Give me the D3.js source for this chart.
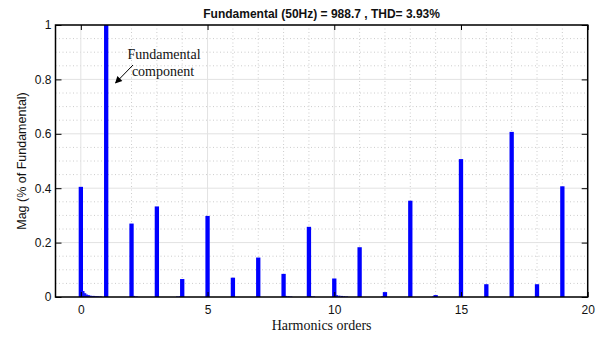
<!DOCTYPE html>
<html>
<head>
<meta charset="utf-8">
<script src="https://cdn.jsdelivr.net/npm/d3@7"></script>
<style>
  body { margin: 0; background: #fff; }
  svg text { fill: #111; }
</style>
</head>
<body>
<svg id="chart" width="608" height="337"></svg>
<script>
// harmonic orders and magnitudes (relative to fundamental)
var orders = [0, 1, 2, 3, 4, 5, 6, 7, 8, 9, 10, 11, 12, 13, 14, 15, 16, 17, 18, 19];
var mags = [0.405, 1.0, 0.27, 0.333, 0.066, 0.298, 0.071, 0.145, 0.085, 0.258, 0.068, 0.183, 0.018, 0.354, 0.007, 0.507, 0.047, 0.607, 0.047, 0.407];

// small leakage bins between the harmonics
var leakOrders = [0.1, 0.17, 0.24, 0.31, 0.38, 0.45, 0.52, 0.59, 0.66, 0.73, 0.8, 2.1, 2.2, 3.8, 3.9, 8.1, 8.2, 8.3, 9.1, 9.2, 10.1, 10.2, 10.3, 10.4, 10.5, 11.9, 13.9];
var leakVals = [0.022, 0.014, 0.009, 0.007, 0.005, 0.004, 0.004, 0.003, 0.003, 0.002, 0.002, 0.004, 0.002, 0.002, 0.003, 0.004, 0.003, 0.002, 0.003, 0.002, 0.007, 0.005, 0.004, 0.003, 0.002, 0.003, 0.002];

var xTicks = [0, 5, 10, 15, 20];
var yTicks = [0, 0.2, 0.4, 0.6, 0.8, 1];

var titleText = "Fundamental (50Hz) = 988.7 , THD= 3.93%";

var svg = d3.select("#chart");
var margin = {top: 25, left: 55.5},
    width = 532.2,
    height = 272;

var g = svg.append("g")
    .attr("transform", `translate(${margin.left},${margin.top})`);

var x = d3.scaleLinear().domain([-1, 20]).range([0, width]);
var y = d3.scaleLinear().domain([0, 1]).range([height, 0]);

// minor grid (dotted)
var minorX = d3.range(-1, 21).filter(d => xTicks.indexOf(d) < 0);
var minorY = d3.range(0, 1.0001, 0.05).map(d => +d.toFixed(2)).filter(d => Math.abs(d * 5 - Math.round(d * 5)) > 1e-6);

g.append("g").selectAll("line")
    .data(minorX)
    .enter().append("line")
    .attr("x1", d => x(d)).attr("x2", d => x(d))
    .attr("y1", 0).attr("y2", height)
    .attr("stroke", "#cccccc")
    .attr("stroke-dasharray", "1,2.5");

g.append("g").selectAll("line")
    .data(minorY)
    .enter().append("line")
    .attr("x1", 0).attr("x2", width)
    .attr("y1", d => y(d)).attr("y2", d => y(d))
    .attr("stroke", "#cccccc")
    .attr("stroke-dasharray", "1,2.5");

// major grid (light solid)
g.append("g").selectAll("line")
    .data(xTicks)
    .enter().append("line")
    .attr("x1", d => x(d)).attr("x2", d => x(d))
    .attr("y1", 0).attr("y2", height)
    .attr("stroke", "#e2e2e2");

g.append("g").selectAll("line")
    .data(yTicks)
    .enter().append("line")
    .attr("x1", 0).attr("x2", width)
    .attr("y1", d => y(d)).attr("y2", d => y(d))
    .attr("stroke", "#e2e2e2");

// bars
var bw = x(0.17) - x(0);
g.selectAll(".bar")
    .data(orders)
    .enter().append("rect")
    .attr("class", "bar")
    .attr("x", d => x(d) - bw / 2)
    .attr("y", (d, i) => y(mags[i]))
    .attr("width", bw)
    .attr("height", (d, i) => height - y(mags[i]))
    .attr("fill", "#0000ff");

var lw = x(0.09) - x(0);
g.selectAll(".leak")
    .data(leakOrders)
    .enter().append("rect")
    .attr("class", "leak")
    .attr("x", d => x(d) - lw / 2)
    .attr("y", (d, i) => y(leakVals[i]))
    .attr("width", lw)
    .attr("height", (d, i) => height - y(leakVals[i]))
    .attr("fill", "#1a1aff");

// axes, ticks pointing inward
var fontTick = "'Liberation Sans', Arial, sans-serif";

g.append("g")
    .attr("transform", `translate(0,${height})`)
    .call(d3.axisBottom(x).tickValues(xTicks).tickSize(-5).tickPadding(8.5).tickFormat(d3.format("d")));
g.append("g")
    .call(d3.axisTop(x).tickValues(xTicks).tickSize(-5).tickFormat(""));
g.append("g")
    .call(d3.axisLeft(y).tickValues(yTicks).tickSize(-6).tickPadding(4).tickFormat(d => d));
g.append("g")
    .attr("transform", `translate(${width},0)`)
    .call(d3.axisRight(y).tickValues(yTicks).tickSize(-6).tickFormat(""));

g.selectAll(".domain").remove();
g.selectAll(".tick line").attr("stroke", "#000");
g.selectAll(".tick text")
    .style("font-family", fontTick)
    .style("font-size", "12px")
    .attr("fill", "#111");

// box
g.append("rect")
    .attr("x", 0).attr("y", 0)
    .attr("width", width).attr("height", height)
    .attr("fill", "none")
    .attr("stroke", "#000")
    .attr("stroke-width", 1.5);

// title
svg.append("text")
    .attr("x", margin.left + width / 2)
    .attr("y", 18)
    .attr("text-anchor", "middle")
    .style("font-family", fontTick)
    .style("font-size", "12px")
    .style("font-weight", "bold")
    .text(titleText);

// axis labels
svg.append("text")
    .attr("transform", `translate(26,${margin.top + height / 2}) rotate(-90)`)
    .attr("text-anchor", "middle")
    .style("font-family", fontTick)
    .style("font-size", "12.5px")
    .text("Mag (% of Fundamental)");

svg.append("text")
    .attr("x", margin.left + width / 2)
    .attr("y", 329.5)
    .attr("text-anchor", "middle")
    .style("font-family", "'Liberation Serif', 'Times New Roman', serif")
    .style("font-size", "14px")
    .text("Harmonics orders");

// annotation
var note = svg.append("text")
    .attr("text-anchor", "middle")
    .style("font-family", "'Liberation Serif', 'Times New Roman', serif")
    .style("font-size", "14px");
note.append("tspan").attr("x", 164).attr("y", 59).text("Fundamental");
note.append("tspan").attr("x", 163).attr("y", 76).text("component");

svg.append("defs").append("marker")
    .attr("id", "arrow")
    .attr("viewBox", "0 0 10 10")
    .attr("refX", 9).attr("refY", 5)
    .attr("markerWidth", 9).attr("markerHeight", 7)
    .attr("markerUnits", "userSpaceOnUse")
    .attr("orient", "auto")
    .append("path")
    .attr("d", "M0,0 L10,5 L0,10 z")
    .attr("fill", "#000");

svg.append("line")
    .attr("x1", 133).attr("y1", 65)
    .attr("x2", 115.5).attr("y2", 83)
    .attr("stroke", "#000")
    .attr("stroke-width", 1)
    .attr("marker-end", "url(#arrow)");
</script>
</body>
</html>
